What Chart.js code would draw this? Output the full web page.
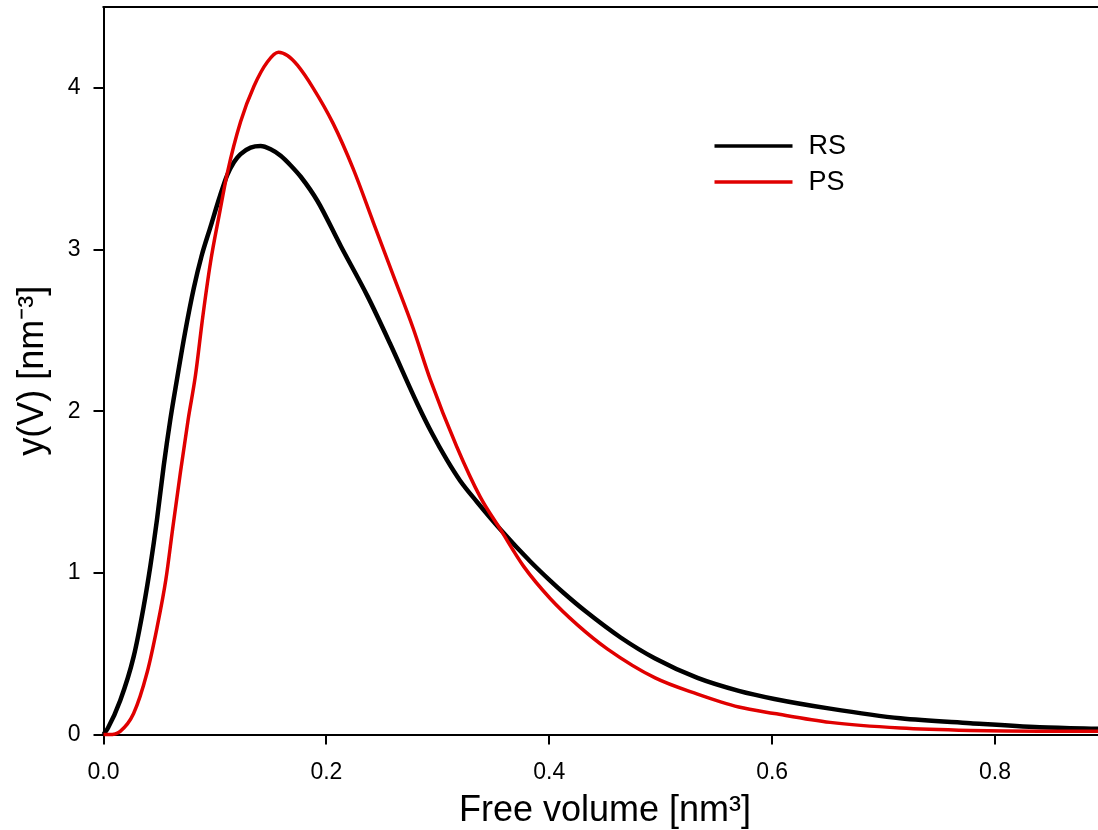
<!DOCTYPE html>
<html><head><meta charset="utf-8">
<script src="https://cdn.jsdelivr.net/npm/chart.js@4.4.1/dist/chart.umd.min.js"></script>
<style>
html,body{margin:0;padding:0;background:#fff;overflow:hidden;width:1098px;height:830px;}
#wrap{position:relative;width:1112px;height:830px;}
</style></head><body>
<div id="wrap"><canvas id="c" width="1112" height="830"></canvas></div>
<script>
// ---- data ----
const seriesNames = ['RS', 'PS'];
const seriesColors = ['#000000', '#e00000'];
const rsX = [0, 0.004, 0.015, 0.027, 0.036, 0.042, 0.048, 0.054, 0.060, 0.066, 0.073, 0.081, 0.088, 0.096, 0.104, 0.111, 0.117, 0.123, 0.132, 0.141, 0.150, 0.159, 0.168, 0.177, 0.192, 0.213, 0.237, 0.257, 0.282, 0.295, 0.308, 0.320, 0.335, 0.356, 0.383, 0.401, 0.413, 0.432, 0.464, 0.495, 0.533, 0.570, 0.602, 0.652, 0.715, 0.778, 0.840, 0.900];
const rsY = [0, 0.04, 0.21, 0.48, 0.79, 1.04, 1.33, 1.66, 1.95, 2.20, 2.48, 2.76, 2.96, 3.14, 3.32, 3.46, 3.54, 3.59, 3.63, 3.64, 3.62, 3.58, 3.52, 3.45, 3.30, 3.02, 2.71, 2.42, 2.04, 1.86, 1.70, 1.57, 1.44, 1.27, 1.07, 0.95, 0.875, 0.765, 0.60, 0.47, 0.35, 0.27, 0.22, 0.16, 0.10, 0.07, 0.045, 0.035];
const psX = [0, 0.005, 0.015, 0.027, 0.039, 0.048, 0.056, 0.062, 0.069, 0.076, 0.0825, 0.089, 0.096, 0.104, 0.111, 0.123, 0.135, 0.147, 0.157, 0.165, 0.174, 0.188, 0.206, 0.224, 0.242, 0.260, 0.278, 0.293, 0.317, 0.338, 0.356, 0.377, 0.401, 0.425, 0.452, 0.495, 0.533, 0.570, 0.602, 0.652, 0.715, 0.778, 0.840, 0.900];
const psY = [0, 0.0, 0.02, 0.13, 0.38, 0.66, 0.96, 1.27, 1.62, 1.95, 2.22, 2.58, 2.92, 3.22, 3.47, 3.79, 4.01, 4.16, 4.22, 4.20, 4.14, 4.00, 3.78, 3.50, 3.17, 2.84, 2.51, 2.20, 1.78, 1.47, 1.27, 1.04, 0.84, 0.68, 0.53, 0.35, 0.25, 0.17, 0.13, 0.075, 0.04, 0.025, 0.02, 0.02];
const xTicks = [0, 0.2, 0.4, 0.6, 0.8];
const yTicks = [0, 1, 2, 3, 4];
const xTitle = 'Free volume [nm\u00B3]';
const yTitle = 'y(V) [nm\u207B\u00B3]';

const FONT = '"Liberation Sans", Arial, sans-serif';

const frameTop = {
  id: 'frameTop',
  afterDatasetsDraw(chart) {
    const a = chart.chartArea, ctx = chart.ctx;
    ctx.save();
    ctx.strokeStyle = '#000';
    ctx.lineWidth = 2;
    ctx.beginPath();
    ctx.moveTo(a.left - 1, a.top);
    ctx.lineTo(a.right + 20, a.top);
    ctx.stroke();
    ctx.restore();
  }
};

const customLegend = {
  id: 'customLegend',
  afterDatasetsDraw(chart) {
    const a = chart.chartArea, ctx = chart.ctx;
    ctx.save();
    const x0 = a.left + 611, len = 78, y0 = a.top + 139, dy = 36;
    ctx.font = '27px ' + FONT;
    ctx.textBaseline = 'middle';
    ctx.textAlign = 'left';
    seriesNames.forEach((name, i) => {
      const y = y0 + i * dy;
      ctx.strokeStyle = seriesColors[i];
      ctx.lineWidth = 3.5;
      ctx.beginPath();
      ctx.moveTo(x0, y);
      ctx.lineTo(x0 + len, y);
      ctx.stroke();
      ctx.fillStyle = '#000';
      ctx.fillText(name, x0 + len + 16, y + 1);
    });
    ctx.restore();
  }
};

const ctx = document.getElementById('c').getContext('2d');
new Chart(ctx, {
  type: 'line',
  data: {
    datasets: [
      { label: seriesNames[0], data: rsX.map((x, i) => ({x, y: rsY[i]})), borderColor: seriesColors[0], borderWidth: 4.5, pointRadius: 0, cubicInterpolationMode: 'monotone', fill: false, clip: 6, order: 1 },
      { label: seriesNames[1], data: psX.map((x, i) => ({x, y: psY[i]})), borderColor: seriesColors[1], borderWidth: 3.5, pointRadius: 0, cubicInterpolationMode: 'monotone', fill: false, clip: 6, order: 0 }
    ]
  },
  options: {
    responsive: false,
    animation: false,
    devicePixelRatio: 1,
    layout: { padding: { left: 0, top: 7, right: 5.5, bottom: 0 } },
    plugins: { legend: { display: false }, tooltip: { enabled: false } },
    scales: {
      x: {
        type: 'linear', min: 0, max: 0.9,
        afterBuildTicks: s => { s.ticks = xTicks.map(v => ({ value: v })); },
        afterFit: s => { s.height = 95.5; s.paddingLeft = 0; s.paddingRight = 0; },
        ticks: { callback: v => Number(v).toFixed(1), color: '#000', font: { family: FONT, size: 23 }, padding: 14, maxRotation: 0 },
        grid: { drawOnChartArea: false, drawTicks: true, tickLength: 10, color: '#000', lineWidth: 2 },
        border: { display: true, color: '#000', width: 2 },
        title: { display: true, text: xTitle, color: '#000', font: { family: FONT, size: 36, lineHeight: 1 }, padding: { top: 0, bottom: 0.5 } }
      },
      y: {
        type: 'linear', min: 0, max: 4.5,
        afterBuildTicks: s => { s.ticks = yTicks.map(v => ({ value: v })); },
        afterFit: s => { s.width = 103.5; s.paddingTop = 0; s.paddingBottom = 0; },
        ticks: { callback: v => String(v), color: '#000', font: { family: FONT, size: 23 }, padding: 13 },
        grid: { drawOnChartArea: false, drawTicks: true, tickLength: 10, color: '#000', lineWidth: 2 },
        border: { display: true, color: '#000', width: 2 },
        title: { display: true, text: yTitle, color: '#000', font: { family: FONT, size: 36, lineHeight: 1 }, padding: { top: 15, bottom: 0 } }
      }
    }
  },
  plugins: [frameTop, customLegend]
});
</script>
</body></html>
